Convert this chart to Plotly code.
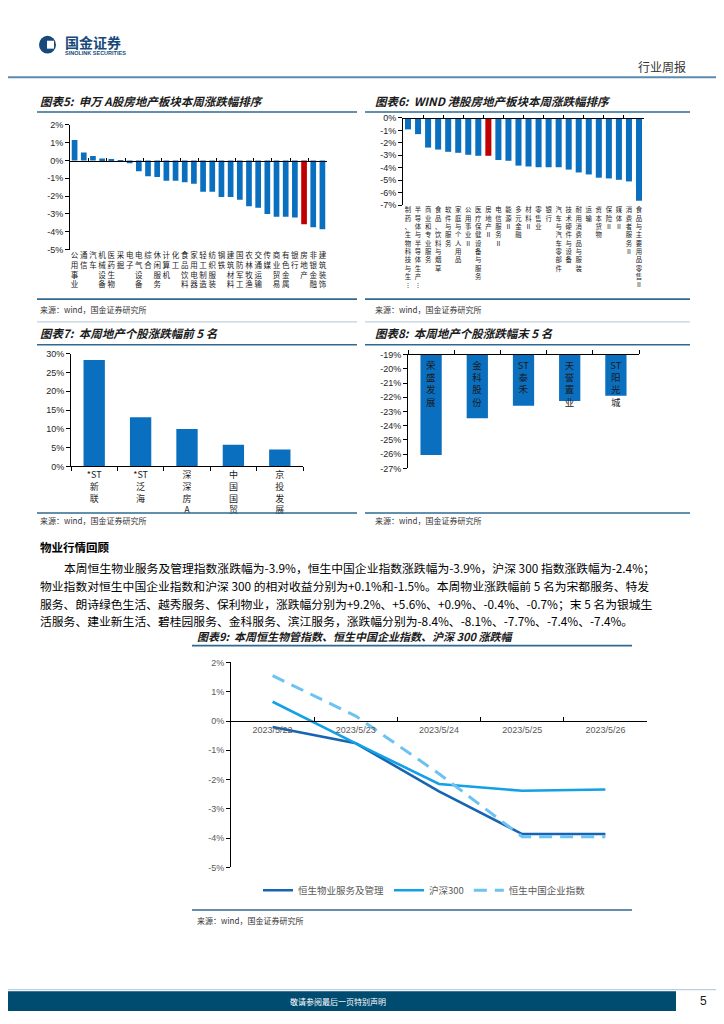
import plotly.graph_objects as go

# page is 724x1024; the browser adds an 8px body margin around the figure,
# so the figure is offset by 8px and sized to fit without scrollbars
PAGE_OFF = 8
W, H = 724 - 2 * PAGE_OFF, 1024 - 2 * PAGE_OFF

# ---------------- data ----------------
sw_cats = ["公用事业", "通信", "汽车", "机械设备", "医药生物", "采掘", "电子", "电气设备",
           "综合", "休闲服务", "计算机", "化工", "食品饮料", "家用电器", "轻工制造", "纺织服装",
           "钢铁", "建筑材料", "国防军工", "农林牧渔", "交通运输", "传媒", "商业贸易", "有色金属",
           "银行", "房地产", "非银金融", "建筑装饰"]
sw_vals = [1.15, 0.45, 0.25, 0.11, 0.08, -0.02, -0.15, -0.6, -0.88, -0.92, -1.13, -1.13,
           -1.22, -1.3, -1.75, -1.75, -2.04, -2.04, -2.2, -2.56, -2.65, -3.0, -3.15, -3.15,
           -3.2, -3.58, -3.75, -3.85]

hk_cats = ["制药、生物科技与生⋮", "半导体与半导体生产⋮", "商业和专业服务", "食品、饮料与烟草",
           "软件与服务", "家庭与个人用品", "公用事业Ⅱ", "医疗保健设备与服务", "房地产Ⅱ",
           "电信服务Ⅱ", "能源Ⅱ", "多元金融", "材料Ⅱ", "零售业", "银行", "汽车与汽车零部件",
           "技术硬件与设备", "耐用消费品与服装", "运输", "资本货物", "保险Ⅱ", "媒体Ⅱ",
           "消费者服务Ⅱ", "食品与主要用品零售Ⅱ"]
hk_vals = [-0.92, -1.3, -2.38, -2.54, -2.72, -2.8, -2.96, -3.04, -3.04, -3.38, -3.44, -3.83,
           -3.9, -3.96, -3.96, -3.96, -4.15, -4.38, -4.54, -4.8, -4.86, -4.97, -5.1, -6.65]

top5_names = ["*ST新联", "*ST泛海", "深深房A", "中国国贸", "京投发展"]
top5_labels = ["*ST<br>新<br>联", "*ST<br>泛<br>海", "深<br>深<br>房<br>A", "中<br>国<br>国<br>贸", "京<br>投<br>发<br>展"]
top5_vals = [28.3, 13.05, 9.97, 5.8, 4.5]

bot5_names = ["荣盛发展", "金科股份", "ST泰禾", "天誉置业", "ST阳光城"]
bot5_labels = ["荣<br>盛<br>发<br>展", "金<br>科<br>股<br>份", "ST<br>泰<br>禾", "天<br>誉<br>置<br>业", "ST<br>阳<br>光<br>城"]
bot5_vals = [-26.06, -23.48, -22.59, -22.26, -21.89]
bot5_base = -19

dates = ["2023/5/22", "2023/5/23", "2023/5/24", "2023/5/25", "2023/5/26"]
hs_prop = [-0.2, -0.76, -2.4, -3.86, -3.86]
hs300 = [0.66, -0.76, -2.15, -2.38, -2.34]
hs_china = [1.55, 0.17, -1.8, -3.95, -3.95]

y5_ticks = list(range(-5, 3))
y6_ticks = list(range(-7, 1))
y7_ticks = list(range(0, 31, 5))
y8_ticks = list(range(-27, -18))
y9_ticks = list(range(-5, 3))

para_lines = [
    "本周恒生物业服务及管理指数涨跌幅为-3.9%，恒生中国企业指数涨跌幅为-3.9%，沪深 300 指数涨跌幅为-2.4%；",
    "物业指数对恒生中国企业指数和沪深 300 的相对收益分别为+0.1%和-1.5%。本周物业涨跌幅前 5 名为宋都服务、特发",
    "服务、朗诗绿色生活、越秀服务、保利物业，涨跌幅分别为+9.2%、+5.6%、+0.9%、-0.4%、-0.7%；末 5 名为银城生",
    "活服务、建业新生活、碧桂园服务、金科服务、滨江服务，涨跌幅分别为-8.4%、-8.1%、-7.7%、-7.4%、-7.4%。",
]

# ---------------- helpers ----------------
def X(px):
    return (px - PAGE_OFF) / W

def Y(py):
    return 1 - (py - PAGE_OFF) / H

def stack(s):
    return "<br>".join(list(s))

def pct(vals):
    return [f"{v}%" for v in vals]

def zero_pos(dom, rng):
    return dom[0] + (0 - rng[0]) / (rng[1] - rng[0]) * (dom[1] - dom[0])

BLUE = "#0a6fbf"
RED = "#c00000"
CJK = "Noto Sans CJK SC"
BASEF = "Liberation Sans, Noto Sans CJK SC"
TXT = "#262626"

fig = go.Figure()

# ---------------- chart 5 ----------------
dom5x = [X(70), X(327)]
dom5y = [Y(247), Y(121)]
rng5 = [-5, 2]
fig.add_trace(go.Bar(x=sw_cats, y=sw_vals, xaxis="x", yaxis="y", width=0.62,
                     marker=dict(color=[RED if c == "房地产" else BLUE for c in sw_cats], line=dict(width=0)),
                     showlegend=False, hoverinfo="x+y"))
fig.add_trace(go.Scatter(x=sw_cats, y=[None] * len(sw_cats), xaxis="x2", yaxis="y",
                         mode="lines", showlegend=False, hoverinfo="skip"))

# ---------------- chart 6 ----------------
dom6x = [X(403), X(644)]
dom6y = [Y(202), Y(114)]
rng6 = [-7, 0]
fig.add_trace(go.Bar(x=hk_cats, y=hk_vals, xaxis="x3", yaxis="y3", width=0.6,
                     marker=dict(color=[RED if c == "房地产Ⅱ" else BLUE for c in hk_cats], line=dict(width=0)),
                     showlegend=False, hoverinfo="x+y"))
fig.add_trace(go.Scatter(x=hk_cats, y=[None] * len(hk_cats), xaxis="x4", yaxis="y3",
                         mode="lines", showlegend=False, hoverinfo="skip"))

# ---------------- chart 7 ----------------
dom7x = [X(71), X(303)]
dom7y = [Y(466), Y(352)]
fig.add_trace(go.Bar(x=top5_names, y=top5_vals, xaxis="x5", yaxis="y5", width=0.46,
                     marker=dict(color=BLUE, line=dict(width=0)), showlegend=False))

# ---------------- chart 8 ----------------
dom8x = [X(408), X(639)]
dom8y = [Y(468), Y(353)]
fig.add_trace(go.Bar(x=bot5_names, y=[v - bot5_base for v in bot5_vals], base=bot5_base,
                     xaxis="x6", yaxis="y6", width=0.46,
                     marker=dict(color=BLUE, line=dict(width=0)),
                     text=bot5_labels, textposition="inside", insidetextanchor="start",
                     textangle=0, constraintext="none",
                     textfont=dict(family=CJK, size=9.5, color="#1a1a1a"),
                     showlegend=False))

# ---------------- chart 9 ----------------
dom9x = [X(231), X(647)]
dom9y = [Y(871), Y(664)]
rng9 = [-5, 2]
fig.add_trace(go.Scatter(x=dates, y=hs_prop, name="恒生物业服务及管理", xaxis="x7", yaxis="y7",
                         mode="lines", line=dict(color="#1664b3", width=2.6)))
fig.add_trace(go.Scatter(x=dates, y=hs300, name="沪深300", xaxis="x7", yaxis="y7",
                         mode="lines", line=dict(color="#12a0e6", width=2.6)))
fig.add_trace(go.Scatter(x=dates, y=hs_china, name="恒生中国企业指数", xaxis="x7", yaxis="y7",
                         mode="lines", line=dict(color="#6cc2f1", width=3, dash="13px,8px")))

axis_common = dict(showgrid=False, zeroline=False, fixedrange=True)
yax_common = dict(showline=True, linecolor="black", linewidth=1, ticks="outside", ticklen=4,
                  tickcolor="black", tickfont=dict(size=9, color=TXT), **axis_common)

fig.update_layout(
    width=W, height=H, autosize=False,
    margin=dict(l=0, r=0, t=0, b=0),
    paper_bgcolor="white", plot_bgcolor="rgba(0,0,0,0)",
    font=dict(family=BASEF, size=9, color=TXT),
    bargap=0.3,
    xaxis=dict(domain=dom5x, anchor="y", type="category", range=[-0.5, len(sw_cats) - 0.5],
               tickmode="array", tickvals=sw_cats, ticktext=[stack(c) for c in sw_cats],
               tickangle=0, ticks="", showline=False,
               tickfont=dict(family=CJK, size=7.5, color="#1a1a1a"), **axis_common),
    xaxis2=dict(overlaying="x", anchor="free", position=zero_pos(dom5y, rng5), type="category",
                range=[-0.5, len(sw_cats) - 0.5], showticklabels=False, ticks="inside",
                tickson="boundaries", ticklen=3, tickcolor="black", showline=True,
                linecolor="black", linewidth=1, side="bottom", **axis_common),
    yaxis=dict(domain=dom5y, anchor="x", range=rng5, tickmode="array", tickvals=y5_ticks,
               ticktext=pct(y5_ticks), **yax_common),

    xaxis3=dict(domain=dom6x, anchor="y3", type="category", range=[-0.5, len(hk_cats) - 0.5],
                tickmode="array", tickvals=hk_cats, ticktext=[stack(c) for c in hk_cats],
                tickangle=0, ticks="", showline=False,
                tickfont=dict(family=CJK, size=6.4, color="#1a1a1a"), **axis_common),
    xaxis4=dict(overlaying="x3", anchor="free", position=zero_pos(dom6y, rng6), type="category",
                range=[-0.5, len(hk_cats) - 0.5], showticklabels=False, ticks="inside",
                tickson="boundaries", ticklen=3, tickcolor="black", showline=True,
                linecolor="black", linewidth=1, side="bottom", **axis_common),
    yaxis3=dict(domain=dom6y, anchor="x3", range=rng6, tickmode="array", tickvals=y6_ticks,
                ticktext=pct(y6_ticks), **yax_common),

    xaxis5=dict(domain=dom7x, anchor="y5", type="category", range=[-0.5, 4.5],
                tickmode="array", tickvals=top5_names, ticktext=top5_labels, tickangle=0,
                ticks="outside", tickson="boundaries", ticklen=4, tickcolor="black",
                showline=True, linecolor="black", linewidth=1,
                tickfont=dict(family=CJK, size=9, color="#1a1a1a"), **axis_common),
    yaxis5=dict(domain=dom7y, anchor="x5", range=[0, 30], tickmode="array", tickvals=y7_ticks,
                ticktext=pct(y7_ticks), **yax_common),

    xaxis6=dict(domain=dom8x, anchor="y6", type="category", range=[-0.5, 4.5], side="top",
                showticklabels=False, ticks="outside", tickson="boundaries", ticklen=4,
                tickcolor="black", showline=True, linecolor="black", linewidth=1, **axis_common),
    yaxis6=dict(domain=dom8y, anchor="x6", range=[-27, -19], tickmode="array", tickvals=y8_ticks,
                ticktext=pct(y8_ticks), **yax_common),

    xaxis7=dict(domain=dom9x, anchor="free", position=zero_pos(dom9y, rng9), type="category",
                range=[-0.5, 4.5], side="bottom", ticks="inside", tickson="boundaries", ticklen=4,
                tickcolor="black", showline=True, linecolor="black", linewidth=1,
                tickfont=dict(size=9, color="#595959"), **axis_common),
    yaxis7=dict(domain=dom9y, anchor="x7", range=rng9, tickmode="array", tickvals=y9_ticks,
                ticktext=pct(y9_ticks),
                showline=True, linecolor="black", linewidth=1, ticks="outside", ticklen=4,
                tickcolor="black", tickfont=dict(size=9, color="#595959"),
                **axis_common),

    legend=dict(orientation="h", x=X(258), y=Y(894), xanchor="left", yanchor="middle",
                font=dict(family=CJK, size=9.5, color="#595959"), bgcolor="rgba(0,0,0,0)",
                itemwidth=30, tracegroupgap=0),
)

# ---------------- page decorations ----------------
shapes = []

def hline(y, x0, x1, color, width):
    shapes.append(dict(type="line", xref="paper", yref="paper", x0=X(x0), x1=X(x1),
                       y0=Y(y), y1=Y(y), line=dict(color=color, width=width)))

SEP = "#2f6891"
hline(73, 0, 724, "#5d8bb0", 2)
for (a, b) in [(37, 357), (365, 690)]:
    hline(108, a, b, SEP, 1.6)
    hline(297, a, b, SEP, 1.6)
    hline(320, a, b, "#9db6ca", 0.8)
    hline(343, a, b, SEP, 1.6)
    hline(513, a, b, SEP, 1.6)
hline(647, 192, 632, SEP, 1.6)
hline(914, 192, 632, SEP, 1.6)

# footer band
shapes.append(dict(type="rect", xref="paper", yref="paper", x0=X(0), x1=X(676), y0=Y(1016), y1=Y(996),
                   fillcolor="#004b70", line=dict(width=0), layer="below"))
hline(994.5, 0, 724, "#a9c3d6", 1)

# logo
shapes.append(dict(type="circle", xref="paper", yref="paper", x0=X(39), x1=X(56), y0=Y(49), y1=Y(31),
                   fillcolor="#17497a", line=dict(width=0)))
shapes.append(dict(type="rect", xref="paper", yref="paper", x0=X(47), x1=X(54), y0=Y(44), y1=Y(36),
                   fillcolor="white", line=dict(width=0)))

fig.update_layout(shapes=shapes)

ann = []

def text(x, y, s, size=9, color=TXT, family=CJK, xanchor="left", bold=False, italic=False):
    ann.append(dict(xref="paper", yref="paper", x=X(x), y=Y(y), text=s, showarrow=False,
                    xanchor=xanchor, yanchor="middle",
                    font=dict(family=family, size=size, color=color,
                              weight="bold" if bold else "normal",
                              style="italic" if italic else "normal")))

# header
text(63, 37, "国金证券", size=14, color="#17497a", bold=True)
text(63, 48, "SINOLINK SECURITIES", size=5.5, color="#17497a", family="Liberation Sans", bold=True)
text(688, 62, "行业周报", size=12, color="#333333", xanchor="right")

# chart titles and sources
TITLE_C = "#1a1a1a"
TS = 11.5
text(38, 97, "图表5:  申万 A股房地产板块本周涨跌幅排序", size=TS, color=TITLE_C, bold=True, italic=True)
text(373, 97, "图表6:  WIND 港股房地产板块本周涨跌幅排序", size=TS, color=TITLE_C, bold=True, italic=True)
text(38, 331, "图表7:  本周地产个股涨跌幅前 5 名", size=TS, color=TITLE_C, bold=True, italic=True)
text(373, 331, "图表8:  本周地产个股涨跌幅末 5 名", size=TS, color=TITLE_C, bold=True, italic=True)
text(195, 637, "图表9:  本周恒生物管指数、恒生中国企业指数、沪深 300 涨跌幅", size=11, color=TITLE_C,
     bold=True, italic=True)
SRC = "来源：wind，国金证券研究所"
for (sx, sy) in [(38, 307), (373, 307), (38, 521), (373, 521), (195, 925)]:
    text(sx, sy, SRC, size=8, color="#333333")

# text section
text(38, 547, "物业行情回顾", size=11.5, color="#000000", bold=True)
text(62, 568, para_lines[0], size=11.8, color="#000000")
text(38, 586, para_lines[1], size=11.8, color="#000000")
text(38, 604, para_lines[2], size=11.8, color="#000000")
text(38, 622, para_lines[3], size=11.8, color="#000000")

# footer
text(338, 1006, "敬请参阅最后一页特别声明", size=8, color="#ffffff", xanchor="center")
text(703, 1006, "5", size=12, color="#1a1a1a", family="Liberation Sans", xanchor="center")

fig.update_layout(annotations=ann)

fig.write_html("out.html")
